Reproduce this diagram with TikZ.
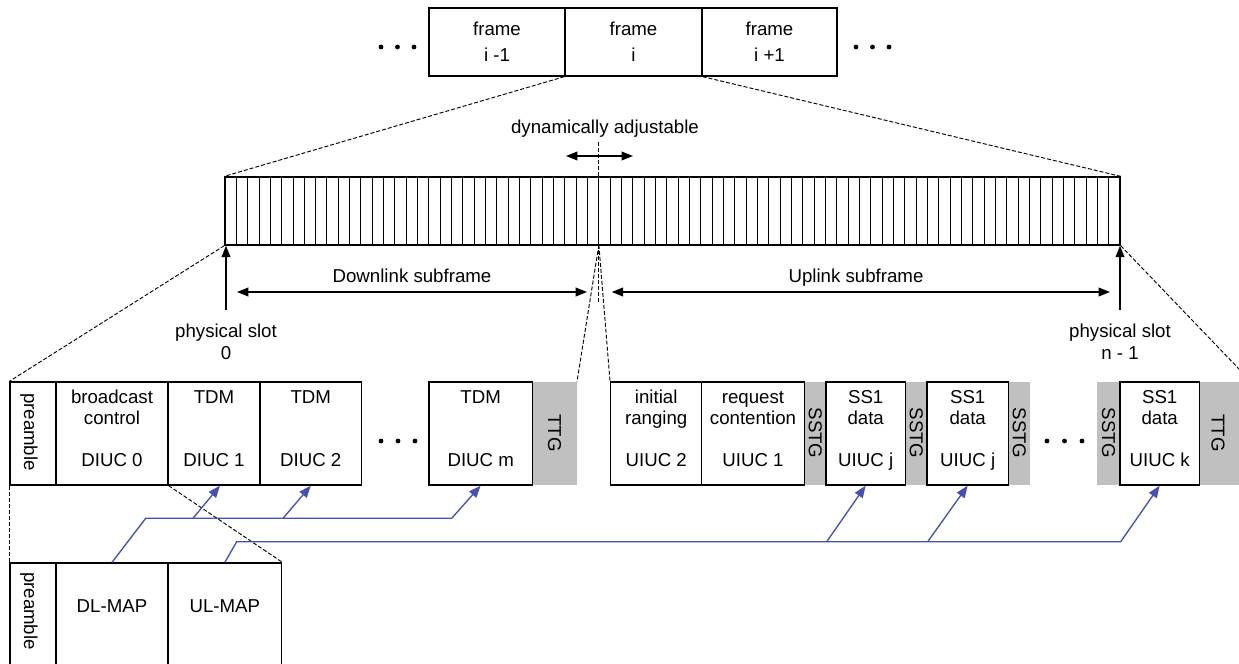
\documentclass[tikz,border=0pt]{standalone}
\usepackage{fontspec}
\setmainfont{Liberation Sans}
\usetikzlibrary{arrows.meta,fit,calc}
\definecolor{gapgray}{RGB}{192,192,192}
\definecolor{mapblue}{RGB}{70,80,175}
\begin{document}
\begin{tikzpicture}[x=0.75pt,y=-0.75pt,
  box/.style={draw, line width=1pt, inner sep=0pt},
  gapbox/.style={fill=gapgray, draw=none, inner sep=0pt},
  t/.style={anchor=base, inner sep=0pt, font=\fontsize{14}{16}\selectfont},
  vt/.style={rotate=-90, inner sep=0pt, font=\fontsize{14}{16}\selectfont},
  dotnode/.style={circle, fill=black, inner sep=0pt, minimum size=3.6pt},
  dashline/.style={line width=0.7pt, dash pattern=on 3pt off 1.5pt},
  blkarrow/.style={line width=1.1pt, -{Triangle[length=8.5pt,width=6.5pt]}},
  blkdouble/.style={line width=1.1pt, {Triangle[length=8.5pt,width=6.5pt]}-{Triangle[length=8.5pt,width=6.5pt]}},
  maparrow/.style={draw=mapblue, line width=1pt, -{Triangle[length=9pt,width=7pt]}, color=mapblue},
  mapline/.style={draw=mapblue, line width=1pt}
]
\useasboundingbox (0,0) rectangle (1239,664);

% ---------- top frames ----------
\node[box, fit={(429,8)(565,76)}] (fa) {};
\node[box, fit={(565,8)(702,76)}] (fi) {};
\node[box, fit={(702,8)(837,76)}] (fb) {};
\node[t] (fa1) at (497,35) {frame};
\node[t] (fa2) at (497,61) {i -1};
\node[t] (fi1) at (633.5,35) {frame};
\node[t] (fi2) at (633.5,61) {i};
\node[t] (fb1) at (769.5,35) {frame};
\node[t] (fb2) at (769.5,61) {i +1};
\node[dotnode] (td1) at (381,47) {};
\node[dotnode] (td2) at (397.5,47) {};
\node[dotnode] (td3) at (414,47) {};
\node[dotnode] (td4) at (856,47) {};
\node[dotnode] (td5) at (872.5,47) {};
\node[dotnode] (td6) at (889,47) {};

% ---------- slot bar ----------
\node[box, fit={(225,177)(1120,245)}] (bar) {};
\foreach \i in {1,...,78} \draw[line width=0.7pt] ({225+\i*11.3291},177) -- ++(0,68);
\coordinate (barmid) at (598.86,245);
\coordinate (dyntop) at (598.86,141.7);
\coordinate (dynbot) at (598.86,303);
\draw[dashline] (dyntop) -- (dynbot);
\draw[dashline] (fi.south west) -- (bar.north west);
\draw[dashline] (fi.south east) -- (bar.north east);

\node[t] (dyn) at (605,133) {dynamically adjustable};
\coordinate (dynl) at (566,156);
\coordinate (dynr) at (633,156);
\draw[blkdouble] (dynl) -- (dynr);

% ---------- subframe arrows ----------
\coordinate (ps0b) at (226,310);
\coordinate (psnb) at (1120,310);
\draw[blkarrow] (ps0b) -- (ps0b |- bar.south);
\draw[blkarrow] (psnb) -- (psnb |- bar.south);
\coordinate (dll) at (237,292);
\coordinate (dlr) at (587,292);
\coordinate (ull) at (611.7,292);
\coordinate (ulr) at (1110,292);
\draw[blkdouble] (dll) -- (dlr);
\draw[blkdouble] (ull) -- (ulr);
\node[t] (dllab) at (412,282) {Downlink subframe};
\node[t] (ullab) at (856,282) {Uplink subframe};
\node[t] (ps0a) at (226,337) {physical slot};
\node[t] (ps0c) at (226,359) {0};
\node[t] (psna) at (1120,337) {physical slot};
\node[t] (psnc) at (1120,359) {n - 1};

% ---------- downlink row ----------
\node[gapbox, fit={(532.3,382)(576.7,485)}] (ttg1) {};
\node[box, fit={(10,382)(56,485)}] (pre1) {};
\node[box, fit={(56,382)(168,485)}] (bc) {};
\node[box, fit={(168,382)(260,485)}] (tdm1) {};
\node[box, fit={(260,382)(361.7,485)}] (tdm2) {};
\node[box, fit={(429,382)(532.3,485)}] (tdmm) {};
\node[vt] (pre1t) at (29,432) {preamble};
\node[t] (bc1) at (112,403) {broadcast};
\node[t] (bc2) at (112,424) {control};
\node[t] (bc3) at (112,466) {DIUC 0};
\node[t] (tdm1a) at (214,403) {TDM};
\node[t] (tdm1b) at (214,466) {DIUC 1};
\node[t] (tdm2a) at (310.8,403) {TDM};
\node[t] (tdm2b) at (310.8,466) {DIUC 2};
\node[t] (tdmma) at (480.7,403) {TDM};
\node[t] (tdmmb) at (480.7,466) {DIUC m};
\node[vt] (ttg1t) at (554.5,433) {TTG};
\node[dotnode] (dd1) at (381,441) {};
\node[dotnode] (dd2) at (398,441) {};
\node[dotnode] (dd3) at (415,441) {};

% ---------- uplink row ----------
\node[gapbox, fit={(804.3,382)(826,485)}] (g1) {};
\node[gapbox, fit={(905.3,382)(927,485)}] (g2) {};
\node[gapbox, fit={(1008.3,382)(1030,485)}] (g3) {};
\node[gapbox, fit={(1097,382)(1120,485)}] (g4) {};
\node[gapbox, fit={(1199.3,382)(1239,485)}] (g5) {};
\node[box, fit={(610.7,382)(701.7,485)}] (ir) {};
\node[box, fit={(701.7,382)(804.3,485)}] (rc) {};
\node[box, fit={(826,382)(905.3,485)}] (ss1a) {};
\node[box, fit={(927,382)(1008.3,485)}] (ss1b) {};
\node[box, fit={(1120,382)(1199.3,485)}] (ss1c) {};
\node[t] (ir1) at (656.2,403) {initial};
\node[t] (ir2) at (656.2,424) {ranging};
\node[t] (ir3) at (656.2,466) {UIUC 2};
\node[t] (rc1) at (753,403) {request};
\node[t] (rc2) at (753,424) {contention};
\node[t] (rc3) at (753,466) {UIUC 1};
\node[vt] (g1t) at (815.2,433) {SSTG};
\node[t] (sa1) at (865.7,403) {SS1};
\node[t] (sa2) at (865.7,424) {data};
\node[t] (sa3) at (865.7,466) {UIUC j};
\node[vt] (g2t) at (916.2,433) {SSTG};
\node[t] (sb1) at (967.7,403) {SS1};
\node[t] (sb2) at (967.7,424) {data};
\node[t] (sb3) at (967.7,466) {UIUC j};
\node[vt] (g3t) at (1019.2,433) {SSTG};
\node[dotnode] (ud1) at (1047,441) {};
\node[dotnode] (ud2) at (1064.5,441) {};
\node[dotnode] (ud3) at (1082,441) {};
\node[vt] (g4t) at (1108.5,433) {SSTG};
\node[t] (sc1) at (1159.7,403) {SS1};
\node[t] (sc2) at (1159.7,424) {data};
\node[t] (sc3) at (1159.7,466) {UIUC k};
\node[vt] (g5t) at (1218,433) {TTG};

% ---------- zoom lines from bar ----------
\coordinate (offr) at (1239,369);
\draw[dashline] (bar.south west) -- (pre1.north west);
\draw[dashline] (barmid) -- (ttg1.north east);
\draw[dashline] (barmid) -- (ir.north west);
\draw[dashline] (bar.south east) -- (offr);

% ---------- bottom row ----------
\node[box, fit={(10,563)(56,672)}] (pre2) {};
\node[box, fit={(56,563)(168,672)}] (dlmap) {};
\node[box, fit={(168,563)(281.7,672)}] (ulmap) {};
\node[vt] (pre2t) at (29,611) {preamble};
\node[t] (dlmapt) at (112,612) {DL-MAP};
\node[t] (ulmapt) at (224.8,612) {UL-MAP};
\draw[dashline] (pre1.south west) -- (pre2.north west);
\draw[dashline] (bc.south east) -- (ulmap.north east);

% ---------- map connectors ----------
\coordinate (dlb) at (145.7,518.3);
\coordinate (dl1) at (193,518.3);
\coordinate (dl2) at (283,518.3);
\coordinate (dle) at (451.7,518.3);
\draw[maparrow] (dlmap.north) -- (dlb) -- (dle) -- (tdmm.south);
\draw[maparrow] (dl1) -- ($(tdm1.south)+(6,0)$);
\draw[maparrow] (dl2) -- (tdm2.south);
\coordinate (ulb) at (236.7,541.7);
\coordinate (ul1) at (826.7,541.7);
\coordinate (ul2) at (927.7,541.7);
\coordinate (ule) at (1120.7,541.7);
\draw[maparrow] (ulmap.north) -- (ulb) -- (ule) -- (ss1c.south);
\draw[maparrow] (ul1) -- (ss1a.south);
\draw[maparrow] (ul2) -- (ss1b.south);
\end{tikzpicture}
\end{document}
